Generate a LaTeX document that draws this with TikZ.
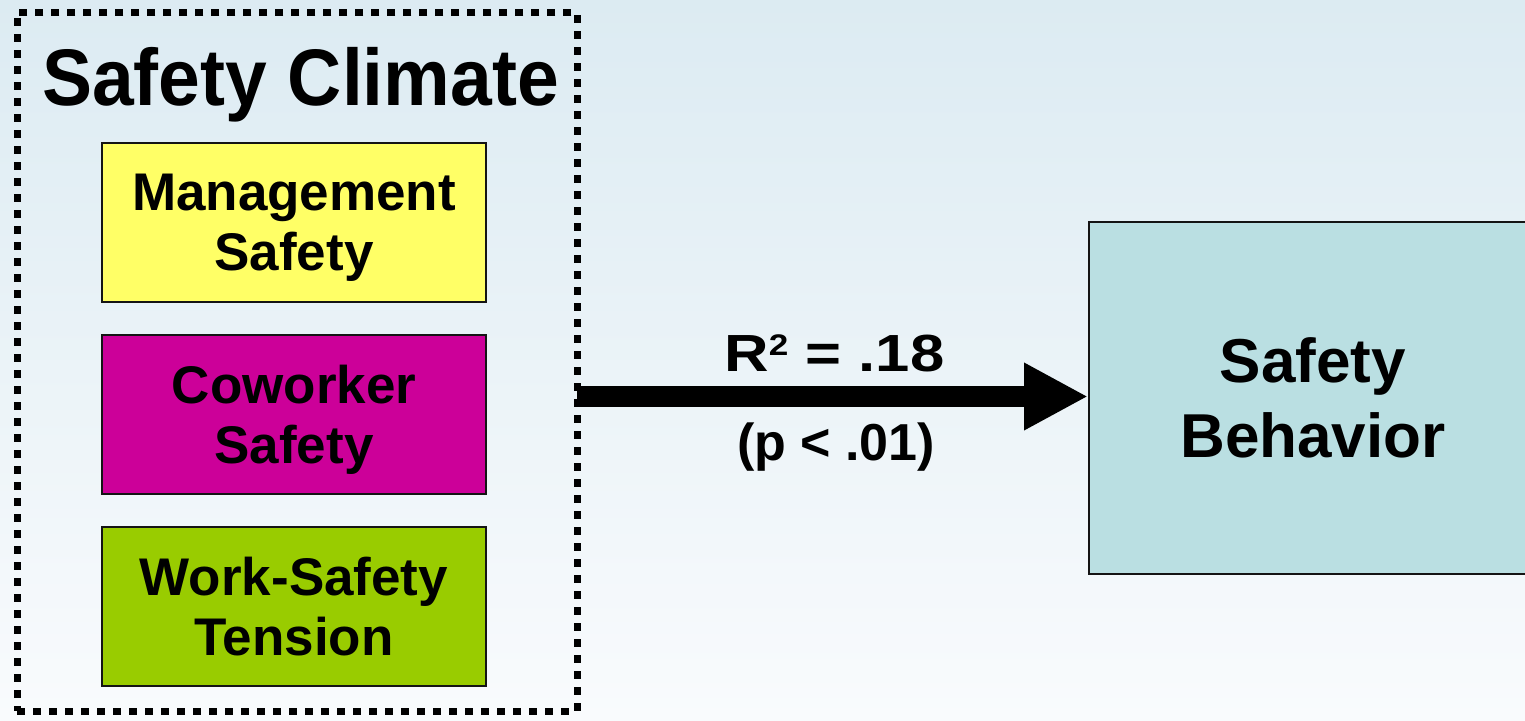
\documentclass[tikz,border=0pt]{standalone}
\usepackage{fontspec}
\usepackage{graphicx}
\setmainfont{Liberation Sans}
\usetikzlibrary{arrows.meta}
\definecolor{bgtop}{RGB}{220,235,242}
\definecolor{bgbot}{RGB}{249,251,253}
\definecolor{ymg}{RGB}{255,255,102}
\definecolor{mag}{RGB}{204,0,153}
\definecolor{grn}{RGB}{153,204,0}
\definecolor{lblue}{RGB}{186,223,226}
\definecolor{edge}{RGB}{20,20,20}
\tikzset{
  factor/.style={draw=edge, line width=2pt, minimum width=384pt, minimum height=159pt, inner sep=0pt, align=center,
    text depth=0pt, font=\fontsize{53}{60}\selectfont\bfseries},
  container/.style={draw=black, line width=7pt, dash pattern=on 8pt off 8pt, minimum width=559.7pt, minimum height=698.7pt,
    inner sep=0pt, outer sep=0pt},
  outcome/.style={draw=edge, line width=2pt, fill=lblue, minimum width=448pt, minimum height=352pt, inner sep=0pt, align=center,
    text depth=0pt, font=\fontsize{62}{75}\selectfont\bfseries},
  lbl/.style={inner sep=0pt, anchor=base},
  bigarrow/.style={line width=21pt, -{Triangle[length=64pt,width=63pt]}}
}
\begin{document}
\begin{tikzpicture}[x=1pt,y=-1pt]
\useasboundingbox (0,0) rectangle (1525,720);
\shade[top color=bgtop, bottom color=bgbot] (0,0) rectangle (1525,720);
\node[container] (sc) at (297.2,361.7) {};
\node[lbl, font=\fontsize{75}{80}\selectfont\bfseries] (title) at (300.5,105) {\scalebox{1}[1.07]{Safety Climate}};
\node[factor, fill=ymg] (ms) at (294,222.5) {Management\\Safety};
\node[factor, fill=mag] (cs) at (294,414.5) {Coworker\\Safety};
\node[factor, fill=grn] (wst) at (294,606.5) {Work-Safety\\Tension};
\node[outcome] (sb) at (1313,398) {Safety\\Behavior};
\draw[bigarrow] (sc.east |- 0,396.5) -- (sb.west |- 0,396.5);
\node[lbl, font=\fontsize{55}{60}\selectfont\bfseries] (r2) at (834.4,371.7)
  {\scalebox{1.12}[0.95]{R\raisebox{17pt}{\scalebox{0.57}{2}} = .18}};
\node[lbl, font=\fontsize{52}{60}\selectfont\bfseries] (p) at (836,460) {(p < .01)};
\end{tikzpicture}
\end{document}
